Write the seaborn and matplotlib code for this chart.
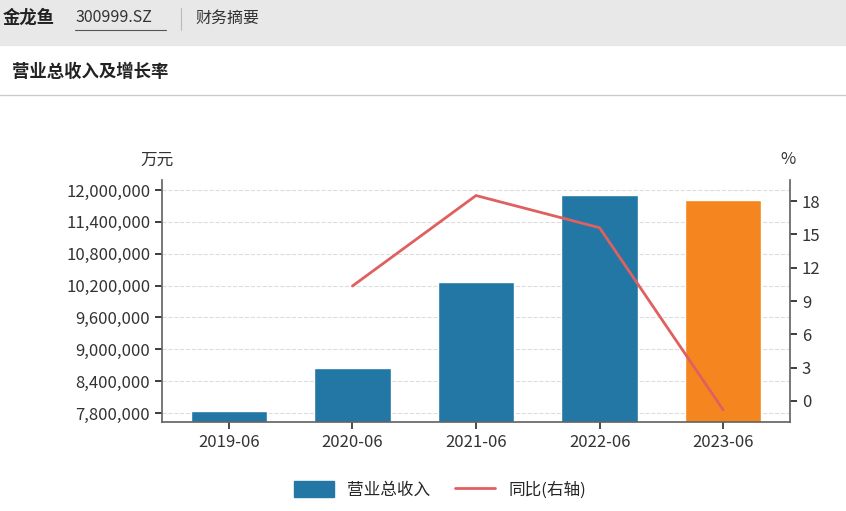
import matplotlib
matplotlib.use("Agg")
import matplotlib.pyplot as plt
import seaborn as sns
import pandas as pd
from matplotlib.patches import Rectangle
from matplotlib.lines import Line2D

periods = ["2019-06", "2020-06", "2021-06", "2022-06", "2023-06"]
revenue = [7840000, 8650000, 10270000, 11910000, 11810000]
growth = [None, 10.35, 18.5, 15.6, -0.8]
left_ticks = [7800000, 8400000, 9000000, 9600000, 10200000, 10800000, 11400000, 12000000]
right_ticks = [0, 3, 6, 9, 12, 15, 18]

sns.set_theme(style="white")
plt.rcParams['font.family'] = ['Noto Sans CJK SC', 'DejaVu Sans']

fig = plt.figure(figsize=(8.46, 5.11), dpi=100)
fig.patches.append(Rectangle((0, 1 - 45/511), 1, 45/511, transform=fig.transFigure, color="#e8e8e8", zorder=0))
fig.text(3/846, 1 - 18/511, "金龙鱼", fontsize=12.5, fontweight="bold", va="center", color="#222")
fig.text(75/846, 1 - 18/511, "300999.SZ", fontsize=11.5, va="center", color="#333")
fig.lines.append(Line2D([75/846, 166/846], [1-30/511, 1-30/511], transform=fig.transFigure, color="#555", lw=0.8))
fig.lines.append(Line2D([181/846, 181/846], [1-8/511, 1-30/511], transform=fig.transFigure, color="#bbb", lw=0.8))
fig.text(195/846, 1 - 18/511, "财务摘要", fontsize=11.5, va="center", color="#333")
fig.text(12/846, 1 - 72/511, "营业总收入及增长率", fontsize=12.5, fontweight="bold", va="center", color="#222")
fig.lines.append(Line2D([0, 1], [1-95/511, 1-95/511], transform=fig.transFigure, color="#ccc", lw=1))

ax = fig.add_axes([162/846, 1 - 422/511, 628/846, 242/511])
df = pd.DataFrame({"period": periods, "revenue": revenue})
colors = ["#2277a4"] * 4 + ["#f5861f"]
sns.barplot(data=df, x="period", y="revenue", hue="period", palette=colors, legend=False, ax=ax, width=0.62, saturation=1)
ax.set_ylim(7630000, 12190000)
ax.set_yticks(left_ticks)
ax.set_yticklabels([f"{v:,}" for v in left_ticks], fontsize=12, color="#333")
ax.tick_params(axis="x", labelsize=12, colors="#333", length=5, direction="out", bottom=True)
ax.tick_params(axis="y", length=5, direction="out", left=True)
ax.set_xlabel(""); ax.set_ylabel("")
ax.grid(axis="y", ls="--", color="#ddd", lw=0.8)
ax.set_axisbelow(True)
for s in ["top", "right"]:
    ax.spines[s].set_visible(False)
for s in ["left", "bottom"]:
    ax.spines[s].set_color("#666")

ax2 = ax.twinx()
gx = [i for i, g in enumerate(growth) if g is not None]
gy = [g for g in growth if g is not None]
sns.lineplot(x=gx, y=gy, ax=ax2, color="#e06060", lw=2)
ax2.set_ylim(-1.9, 19.9)
ax2.set_yticks(right_ticks)
ax2.set_yticklabels([str(v) for v in right_ticks], fontsize=12, color="#333")
ax2.tick_params(axis="y", length=5, direction="out", right=True)
for s in ["top", "left", "bottom"]:
    ax2.spines[s].set_visible(False)
ax2.spines["right"].set_color("#666")
ax2.set_ylabel("")

fig.text(140/846, 1 - 160/511, "万元", fontsize=12, va="center", color="#333")
fig.text(780/846, 1 - 160/511, "%", fontsize=12, va="center", color="#333")

handles = [Rectangle((0, 0), 1, 1, color="#2277a4"), Line2D([0], [0], color="#e06060", lw=2)]
fig.legend(handles, ["营业总收入", "同比(右轴)"], loc="center", bbox_to_anchor=(0.52, 1 - 490/511),
           ncol=2, frameon=False, fontsize=12, handlelength=2.4, handleheight=1.1, columnspacing=1.5)
fig.savefig("out.png", dpi=100)
